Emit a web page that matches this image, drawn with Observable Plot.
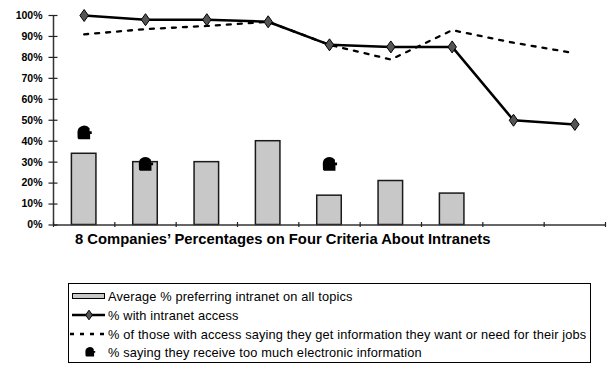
<!DOCTYPE html>
<html>
<head>
<meta charset="utf-8">
<script src="https://cdn.jsdelivr.net/npm/d3@7"></script>
<script src="https://cdn.jsdelivr.net/npm/@observablehq/plot@0.6"></script>
<style>
  body { margin: 0; background: #fff; font-family: "Liberation Sans", Arial, sans-serif; }
  #wrap { position: relative; width: 610px; height: 365px; overflow: hidden; }
  #chart { position: absolute; left: 0; top: 0; }
  #title { position: absolute; left: 75px; top: 232px; font-weight: bold; font-size: 14.8px; line-height: 14px; white-space: nowrap; color: #000; }
  #legend { position: absolute; left: 68px; top: 283px; width: 523px; height: 80px; box-sizing: border-box; border: 1px solid #000; }
  .row { position: absolute; left: 0; height: 18px; display: flex; align-items: center; font-size: 12.8px; letter-spacing: 0.15px; white-space: nowrap; color: #000; }
  .row svg { margin-right: 3px; }
</style>
</head>
<body>
<div id="wrap">
  <div id="chart"></div>
  <div id="title">8 Companies’ Percentages on Four Criteria About Intranets</div>
  <div id="legend"></div>
</div>
<script>
// Company position along the axis (1–9)
const companies = [1, 2, 3, 4, 5, 6, 7, 8, 9];
// Average % preferring intranet on all topics (bars)
const preferIntranet = [34, 30, 30, 40, 14, 21, 15, null, null];
// % with intranet access (solid line)
const withAccess = [100, 98, 98, 97, 86, 85, 85, 50, 48];
// % of those with access saying they get the information they need (dashed line)
const getsInfo = [91, 93.5, 95, 97, 86, 79, 93, 87, 82];
// % saying they receive too much electronic information (markers)
const tooMuch = [44, 29, null, null, 29, null, null, null, null];
// Axis ticks
const yTicks = [0, 10, 20, 30, 40, 50, 60, 70, 80, 90, 100];
const xBoundaries = [0.5, 1.5, 2.5, 3.5, 4.5, 5.5, 6.5, 7.5, 8.5, 9.5];

const seriesLabels = [
  "Average % preferring intranet on all topics",
  "% with intranet access",
  "% of those with access saying they get information they want or need for their jobs",
  "% saying they receive too much electronic information"
];

const rows = companies.map((c, i) => ({
  company: c,
  prefer: preferIntranet[i],
  access: withAccess[i],
  info: getsInfo[i],
  tooMuch: tooMuch[i]
}));

const BAR_HALF = 0.2;
const FONT = '"Liberation Sans", Arial, sans-serif';

// Tall diamond used on the access line
const diamond = {
  draw(ctx, size) {
    const r = Math.sqrt(size / Math.PI);
    ctx.moveTo(0, -r * 1.2);
    ctx.lineTo(r * 0.85, 0);
    ctx.lineTo(0, r * 1.2);
    ctx.lineTo(-r * 0.85, 0);
    ctx.closePath();
  }
};

// Rounded blob marker for "too much information": a round cap over a squared base
const blob = {
  draw(ctx, size) {
    const r = Math.sqrt(size / Math.PI);
    const k = r / 6;
    ctx.moveTo(-6 * k, 5 * k);
    ctx.lineTo(-6.2 * k, -0.5 * k);
    ctx.arc(0, -0.5 * k, 6.2 * k, Math.PI, 1.8 * Math.PI);
    ctx.lineTo(5 * k, -1.5 * k);
    ctx.lineTo(7 * k, -1.5 * k);
    ctx.lineTo(7 * k, 1 * k);
    ctx.lineTo(5.5 * k, 1 * k);
    ctx.lineTo(5.5 * k, 6 * k);
    ctx.lineTo(-5 * k, 6 * k);
    ctx.closePath();
  }
};

const chart = Plot.plot({
  width: 610,
  height: 232,
  marginLeft: 53,
  marginRight: 5,
  marginTop: 15,
  marginBottom: 7.5,
  x: { domain: [0.5, 9.5] },
  y: { domain: [0, 100] },
  style: { fontFamily: FONT, fontSize: "10.5px", fontWeight: "bold", color: "#000", background: "#fff", overflow: "visible" },
  marks: [
    Plot.rectY(rows.filter(d => d.prefer != null), {
      x1: d => d.company - BAR_HALF,
      x2: d => d.company + BAR_HALF,
      y1: 0,
      y2: "prefer",
      fill: "#c8c8c8",
      stroke: "#1a1a1a",
      strokeWidth: 1.5
    }),
    Plot.ruleX([0.5], { stroke: "#333", strokeWidth: 1.5 }),
    Plot.ruleY([0], { stroke: "#333", strokeWidth: 1.5 }),
    // tick marks crossing the value axis
    Plot.axisY({ ticks: yTicks, tickSize: 9, dx: 4.5, tickFormat: () => "", label: null, stroke: "#222", strokeWidth: 1.2 }),
    // value labels
    Plot.axisY({ ticks: yTicks, tickSize: 0, tickPadding: 11, tickFormat: d => d + "%", label: null, fill: "#000" }),
    // company boundary ticks crossing the base line
    Plot.axisX({ ticks: xBoundaries, tickSize: 5, dy: -2.5, tickFormat: () => "", label: null, stroke: "#222", strokeWidth: 1.2 }),
    Plot.line(rows, { x: "company", y: "info", stroke: "#000", strokeWidth: 2.3, strokeDasharray: "4,7" }),
    Plot.line(rows, { x: "company", y: "access", stroke: "#000", strokeWidth: 2.5 }),
    Plot.dot(rows, { x: "company", y: "access", symbol: diamond, r: 5, fill: "#555", stroke: "#000", strokeWidth: 1 }),
    Plot.dot(rows.filter(d => d.tooMuch != null), { x: "company", y: "tooMuch", symbol: blob, r: 6.5, fill: "#000" })
  ]
});
document.getElementById("chart").appendChild(chart);

// Legend
const legend = d3.select("#legend");
const rowTops = [3, 22, 41, 59];
const NS = "http://www.w3.org/2000/svg";
seriesLabels.forEach((label, i) => {
  const row = legend.append("div").attr("class", "row").style("top", rowTops[i] + "px");
  const svg = row.append("svg").attr("xmlns", NS).attr("width", 36).attr("height", 18);
  if (i === 0) {
    svg.append("rect").attr("x", 3.5).attr("y", 6.5).attr("width", 32).attr("height", 5)
      .attr("fill", "#c8c8c8").attr("stroke", "#000").attr("stroke-width", 1);
  } else if (i === 1) {
    svg.append("line").attr("x1", 3).attr("x2", 36).attr("y1", 9).attr("y2", 9)
      .attr("stroke", "#000").attr("stroke-width", 2.5);
    svg.append("path").attr("d", d3.symbol(diamond, Math.PI * 16)()).attr("transform", "translate(20,9)")
      .attr("fill", "#555").attr("stroke", "#000");
  } else if (i === 2) {
    svg.append("line").attr("x1", 1).attr("x2", 36).attr("y1", 9).attr("y2", 9)
      .attr("stroke", "#000").attr("stroke-width", 2.5).attr("stroke-dasharray", "4,6");
  } else {
    svg.append("path").attr("d", d3.symbol(blob, Math.PI * 20)()).attr("transform", "translate(21,9)")
      .attr("fill", "#000");
  }
  row.append("span").text(label);
});
</script>
</body>
</html>
